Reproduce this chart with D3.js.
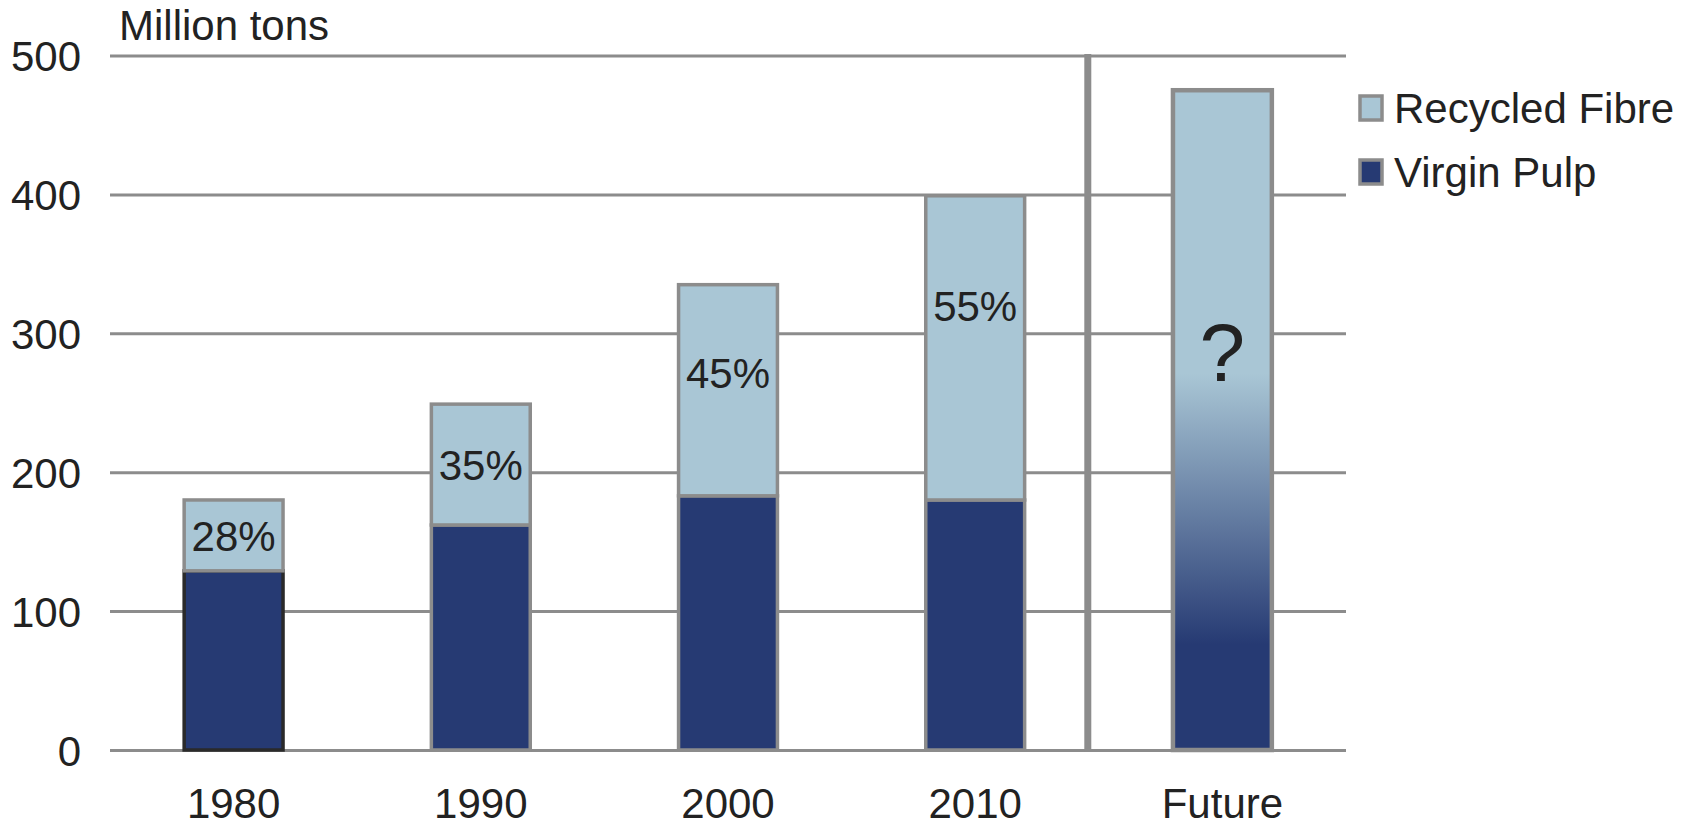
<!DOCTYPE html>
<html>
<head>
<meta charset="utf-8">
<script src="https://cdn.jsdelivr.net/npm/d3@7"></script>
<style>
  body { margin: 0; background: #fff; }
  svg { display: block; }
  text { font-family: "Liberation Sans", Arial, sans-serif; fill: #222; }
</style>
</head>
<body>
<svg id="svg" width="1694" height="822"></svg>
<script>
// data (million tons)
var categories = ["1980", "1990", "2000", "2010", "Future"];
var virgin = [129, 162, 183, 180];
var recycled = [51, 87, 152, 219];
var futureTotal = 475;
var shares = ["28%", "35%", "45%", "55%"];
var yTicks = [0, 100, 200, 300, 400, 500];
var legendKeys = ["Recycled Fibre", "Virgin Pulp"];

var navy = "#263a73", light = "#a9c6d5", grey = "#8c8c8c";

var svg = d3.select("#svg");
var plotLeft = 110, plotRight = 1346, plotTop = 55.5, plotBottom = 750;

var x = d3.scaleBand().domain(categories).range([plotLeft, plotRight]).paddingInner(0.6).paddingOuter(0.3);
var y = d3.scaleLinear().domain([0, 500]).range([plotBottom, plotTop]);

// gradient for the future bar
var grad = svg.append("defs").append("linearGradient")
  .attr("id", "fut").attr("x1", 0).attr("y1", 0).attr("x2", 0).attr("y2", 1);
grad.append("stop").attr("offset", 0.43).attr("stop-color", light);
grad.append("stop").attr("offset", 0.84).attr("stop-color", navy);

// y axis with gridlines
var yAxis = svg.append("g").attr("transform", "translate(" + plotLeft + ",0)")
  .call(d3.axisLeft(y).tickValues(yTicks).tickSizeInner(-(plotRight - plotLeft)).tickSizeOuter(0).tickPadding(29));
yAxis.select(".domain").remove();
yAxis.selectAll("line").attr("stroke", grey).attr("stroke-width", 3);
yAxis.selectAll("text").attr("font-size", 42).attr("fill", "#222").attr("dy", "0.36em");

// x axis labels
var xAxis = svg.append("g").attr("transform", "translate(0," + plotBottom + ")")
  .call(d3.axisBottom(x).tickSize(0).tickPadding(38));
xAxis.select(".domain").remove();
xAxis.selectAll("text").attr("font-size", 42).attr("fill", "#222");

svg.append("text").attr("x", 119).attr("y", 40).attr("font-size", 42).text("Million tons");

// separator between history and future
var sepX = x("Future") - x.step() * x.paddingInner() / 2 - 11;
svg.append("line").attr("x1", sepX).attr("x2", sepX).attr("y1", plotTop - 1.5).attr("y2", plotBottom + 1.5)
  .attr("stroke", grey).attr("stroke-width", 7);

// stacked bars
var rows = virgin.map(function(v, i){ return {cat: categories[i], virgin: v, recycled: recycled[i], share: shares[i]}; });
var stack = d3.stack().keys(["virgin", "recycled"])(rows);
var fills = {virgin: navy, recycled: light};

svg.selectAll("g.layer").data(stack).enter().append("g").attr("class", "layer")
  .attr("fill", function(d){ return fills[d.key]; })
  .selectAll("rect").data(function(d){ return d.map(function(p){ p.key = d.key; return p; }); })
  .enter().append("rect")
  .attr("x", function(d){ return x(d.data.cat); })
  .attr("width", x.bandwidth())
  .attr("y", function(d){ return y(d[1]); })
  .attr("height", function(d){ return y(d[0]) - y(d[1]); })
  .attr("stroke", function(d){ return (d.key == "virgin" && d.data.cat == "1980") ? "#2a2a2a" : grey; })
  .attr("stroke-width", 3.5);

// percent labels in recycled segment
svg.selectAll("text.share").data(stack[1]).enter().append("text").attr("class", "share")
  .attr("x", function(d){ return x(d.data.cat) + x.bandwidth() / 2; })
  .attr("y", function(d){
    var t = y(d[1]), h = y(d[0]) - y(d[1]);
    return t + Math.min(h / 2, 40 + h * 0.23);
  })
  .attr("dy", "0.36em").attr("text-anchor", "middle").attr("font-size", 42)
  .text(function(d){ return d.data.share; });

// future bar
svg.append("rect").attr("x", x("Future")).attr("width", x.bandwidth())
  .attr("y", y(futureTotal)).attr("height", y(0) - y(futureTotal))
  .attr("fill", "url(#fut)").attr("stroke", grey).attr("stroke-width", 4.5);
svg.append("text").attr("x", x("Future") + x.bandwidth() / 2).attr("y", 351)
  .attr("dy", "0.36em").attr("text-anchor", "middle").attr("font-size", 82).text("?");

// legend
var leg = svg.selectAll("g.leg").data(legendKeys).enter().append("g").attr("class", "leg")
  .attr("transform", function(d, i){ return "translate(1360," + (96 + i * 64) + ")"; });
leg.append("rect").attr("width", 22).attr("height", 24)
  .attr("fill", function(d, i){ return i == 0 ? light : navy; })
  .attr("stroke", grey).attr("stroke-width", 3.5);
leg.append("text").attr("x", 34).attr("y", 12).attr("dy", "0.36em").attr("font-size", 42)
  .text(function(d){ return d; });
</script>
</body>
</html>
